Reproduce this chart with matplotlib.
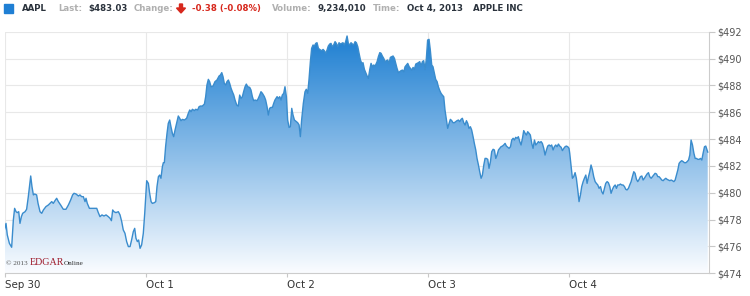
import numpy as np
import matplotlib
matplotlib.use('Agg')
import matplotlib.pyplot as plt
from matplotlib.colors import LinearSegmentedColormap
from matplotlib.patches import Rectangle, Polygon

# intraday AAPL quotes, time in trading days since Sep 30 open
sep30_t = [0.000, 0.010, 0.019, 0.034, 0.050, 0.062, 0.071, 0.081, 0.090, 0.100,
           0.109, 0.119, 0.128, 0.145, 0.156, 0.168, 0.185, 0.194, 0.204, 0.213,
           0.227, 0.237, 0.251, 0.263, 0.275, 0.293, 0.310, 0.322, 0.334, 0.345,
           0.357, 0.369, 0.381, 0.397, 0.416, 0.435, 0.452, 0.468, 0.482, 0.492,
           0.506, 0.523, 0.534, 0.546, 0.558, 0.570, 0.577, 0.586, 0.601, 0.617,
           0.634, 0.653, 0.664, 0.676, 0.690, 0.704, 0.719, 0.735, 0.747, 0.757,
           0.766, 0.775, 0.789, 0.806, 0.818, 0.830, 0.841, 0.853, 0.865, 0.877,
           0.889, 0.900, 0.912, 0.922, 0.931, 0.941, 0.950, 0.960, 0.971, 0.983,
           0.993]
sep30_p = [477.28, 477.72, 476.86, 476.23, 475.94, 477.97, 478.84, 478.59, 478.52, 478.59,
           477.72, 478.22, 478.47, 478.59, 478.77, 479.71, 481.25, 480.46, 479.84, 479.91,
           479.84, 479.21, 478.59, 478.47, 478.72, 478.97, 479.09, 479.21, 479.34, 479.21,
           479.41, 479.59, 479.34, 479.09, 478.77, 478.77, 479.09, 479.46, 479.84, 479.96,
           479.91, 479.76, 479.84, 479.71, 479.71, 479.34, 479.59, 479.21, 478.84, 478.84,
           478.84, 478.84, 478.52, 478.22, 478.35, 478.27, 478.35, 478.22, 478.10, 477.92,
           478.72, 478.59, 478.52, 478.59, 478.35, 477.85, 477.23, 476.98, 476.36, 475.99,
           475.99, 476.48, 477.10, 477.35, 476.61, 476.36, 476.48, 475.86, 476.11, 476.98,
           478.47]

oct1_t = [1.007, 1.019, 1.028, 1.038, 1.047, 1.061, 1.071, 1.080, 1.090, 1.099,
          1.108, 1.118, 1.125, 1.132, 1.141, 1.151, 1.160, 1.170, 1.179, 1.189,
          1.198, 1.208, 1.219, 1.231, 1.241, 1.250, 1.260, 1.274, 1.290, 1.302,
          1.312, 1.321, 1.331, 1.345, 1.354, 1.368, 1.378, 1.387, 1.401, 1.416,
          1.425, 1.434, 1.444, 1.453, 1.463, 1.477, 1.491, 1.505, 1.520, 1.529,
          1.539, 1.548, 1.557, 1.567, 1.576, 1.586, 1.595, 1.605, 1.614, 1.624,
          1.633, 1.645, 1.656, 1.666, 1.675, 1.685, 1.694, 1.704, 1.713, 1.723,
          1.737, 1.746, 1.756, 1.765, 1.775, 1.789, 1.798, 1.808, 1.817, 1.827,
          1.841, 1.850, 1.860, 1.869, 1.878, 1.888, 1.898, 1.907, 1.916, 1.931,
          1.940, 1.950, 1.959, 1.968, 1.978, 1.987, 1.997]
oct1_p = [480.90, 480.70, 479.96, 479.34, 479.21, 479.26, 479.34, 480.46, 481.20, 481.32,
          481.08, 481.94, 482.24, 482.24, 483.43, 484.43, 485.17, 485.42, 484.92, 484.43,
          484.18, 484.68, 485.17, 485.72, 485.55, 485.37, 485.47, 485.42, 485.55, 485.92,
          486.17, 486.04, 486.22, 486.12, 486.22, 486.17, 486.41, 486.46, 486.46, 486.61,
          487.16, 488.03, 488.45, 488.28, 487.90, 487.95, 488.28, 488.40, 488.70, 488.77,
          488.95, 488.65, 488.15, 488.03, 488.28, 488.40, 488.15, 487.78, 487.53, 487.28,
          486.91, 486.54, 486.46, 487.28, 487.03, 487.16, 487.53, 487.90, 488.10, 487.90,
          487.85, 487.66, 487.16, 486.86, 486.91, 486.86, 487.03, 487.28, 487.53, 487.41,
          487.16, 486.91, 486.41, 485.79, 486.29, 486.36, 486.36, 486.66, 486.91, 487.16,
          487.03, 487.16, 486.91, 487.28, 487.41, 487.90, 487.16]

oct2_t = [2.006, 2.016, 2.025, 2.035, 2.044, 2.054, 2.068, 2.077, 2.087, 2.096,
          2.105, 2.117, 2.129, 2.138, 2.148, 2.157, 2.167, 2.176, 2.186, 2.195,
          2.205, 2.214, 2.224, 2.233, 2.247, 2.257, 2.266, 2.276, 2.285, 2.294,
          2.304, 2.313, 2.323, 2.332, 2.342, 2.351, 2.361, 2.370, 2.380, 2.389,
          2.398, 2.408, 2.417, 2.427, 2.436, 2.446, 2.455, 2.465, 2.474, 2.484,
          2.493, 2.503, 2.512, 2.522, 2.531, 2.540, 2.550, 2.559, 2.569, 2.578,
          2.588, 2.597, 2.607, 2.616, 2.626, 2.640, 2.649, 2.659, 2.668, 2.677,
          2.687, 2.696, 2.706, 2.715, 2.725, 2.734, 2.744, 2.753, 2.763, 2.772,
          2.781, 2.791, 2.800, 2.810, 2.819, 2.829, 2.838, 2.848, 2.857, 2.867,
          2.876, 2.885, 2.895, 2.904, 2.914, 2.923, 2.932, 2.942, 2.951, 2.961,
          2.970, 2.980, 2.989, 2.998]
oct2_p = [485.42, 484.87, 484.92, 486.29, 485.79, 485.42, 485.30, 485.22, 485.05, 484.18,
          485.42, 486.66, 487.53, 487.71, 487.41, 488.40, 489.77, 490.76, 491.01, 490.93,
          491.13, 491.18, 490.76, 490.68, 490.58, 490.68, 490.58, 490.39, 490.63, 490.93,
          491.08, 491.13, 490.88, 491.01, 491.26, 491.13, 490.88, 491.18, 491.08, 491.13,
          491.18, 491.01, 491.26, 491.68, 491.13, 491.01, 491.18, 491.08, 491.01, 491.26,
          491.18, 490.88, 490.39, 489.89, 489.64, 489.69, 489.19, 488.95, 488.70, 488.52,
          489.19, 489.64, 489.39, 489.52, 489.44, 489.77, 490.14, 490.44, 490.39, 490.19,
          490.01, 489.77, 489.84, 489.89, 489.64, 490.09, 490.14, 490.19, 490.01, 489.64,
          489.27, 488.95, 489.02, 489.10, 489.14, 489.02, 489.39, 489.52, 489.64, 489.39,
          489.27, 489.14, 489.34, 489.19, 489.59, 489.64, 489.69, 489.77, 489.44, 489.77,
          489.84, 489.19, 490.01, 491.38]

oct3_t = [3.008, 3.017, 3.027, 3.036, 3.046, 3.055, 3.065, 3.074, 3.084, 3.093,
          3.102, 3.112, 3.121, 3.131, 3.140, 3.150, 3.159, 3.169, 3.178, 3.187,
          3.197, 3.206, 3.216, 3.225, 3.235, 3.244, 3.254, 3.263, 3.273, 3.282,
          3.291, 3.301, 3.310, 3.320, 3.329, 3.339, 3.348, 3.358, 3.367, 3.377,
          3.386, 3.396, 3.405, 3.414, 3.424, 3.433, 3.443, 3.452, 3.462, 3.471,
          3.481, 3.490, 3.500, 3.509, 3.518, 3.528, 3.537, 3.547, 3.556, 3.566,
          3.575, 3.585, 3.594, 3.604, 3.613, 3.622, 3.632, 3.641, 3.651, 3.660,
          3.670, 3.679, 3.689, 3.698, 3.707, 3.717, 3.726, 3.736, 3.745, 3.755,
          3.764, 3.774, 3.783, 3.792, 3.802, 3.811, 3.821, 3.830, 3.840, 3.849,
          3.859, 3.868, 3.877, 3.887, 3.896, 3.906, 3.915, 3.925, 3.934, 3.944,
          3.953, 3.963, 3.972, 3.981, 3.991, 4.000]
oct3_p = [491.43, 490.63, 489.52, 489.39, 488.90, 488.45, 488.28, 487.90, 487.61, 487.41,
          487.28, 487.16, 486.17, 485.42, 484.80, 485.17, 485.47, 485.37, 485.22, 485.22,
          485.30, 485.37, 485.42, 485.30, 485.47, 485.55, 485.22, 485.05, 485.37, 485.17,
          484.80, 484.92, 484.68, 484.18, 483.68, 483.19, 482.56, 482.07, 481.57, 481.08,
          481.32, 482.07, 482.56, 482.56, 482.49, 481.82, 482.32, 483.06, 483.24, 483.19,
          482.56, 482.81, 483.19, 483.31, 483.43, 483.48, 483.56, 483.68, 483.48, 483.39,
          483.31, 483.43, 483.93, 484.06, 483.93, 484.13, 484.06, 484.18, 483.81, 483.56,
          484.06, 484.63, 484.43, 484.30, 484.55, 484.43, 484.30, 483.68, 483.31, 483.93,
          483.56, 483.68, 483.81, 483.73, 483.81, 483.68, 483.31, 482.81, 483.19, 483.48,
          483.56, 483.48, 483.56, 483.19, 483.43, 483.56, 483.43, 483.63, 483.48, 483.39,
          483.14, 483.31, 483.43, 483.48, 483.43, 483.31]

oct4_t = [4.005, 4.015, 4.024, 4.033, 4.043, 4.052, 4.062, 4.071, 4.081, 4.090,
          4.100, 4.109, 4.119, 4.128, 4.138, 4.147, 4.156, 4.166, 4.175, 4.185,
          4.194, 4.204, 4.213, 4.223, 4.232, 4.241, 4.251, 4.260, 4.270, 4.279,
          4.289, 4.298, 4.308, 4.317, 4.327, 4.336, 4.345, 4.355, 4.364, 4.374,
          4.383, 4.393, 4.402, 4.411, 4.421, 4.430, 4.440, 4.449, 4.459, 4.468,
          4.478, 4.487, 4.497, 4.506, 4.516, 4.525, 4.534, 4.544, 4.553, 4.563,
          4.572, 4.582, 4.591, 4.601, 4.610, 4.620, 4.629, 4.638, 4.648, 4.657,
          4.667, 4.676, 4.686, 4.695, 4.705, 4.714, 4.724, 4.733, 4.743, 4.752,
          4.761, 4.771, 4.780, 4.790, 4.799, 4.809, 4.818, 4.828, 4.837, 4.847,
          4.856, 4.865, 4.875, 4.885, 4.894, 4.903, 4.913, 4.922, 4.932, 4.941,
          4.950, 4.960, 4.969, 4.979, 4.983]
oct4_p = [482.94, 481.94, 481.08, 481.20, 481.50, 481.08, 480.21, 479.34, 479.84, 480.46,
          480.83, 481.08, 481.32, 480.70, 481.20, 481.57, 482.07, 481.70, 481.20, 480.83,
          480.70, 480.58, 480.33, 480.46, 480.08, 479.91, 480.33, 480.70, 480.83, 480.75,
          480.46, 479.96, 480.26, 480.46, 480.58, 480.33, 480.58, 480.58, 480.65, 480.58,
          480.58, 480.46, 480.26, 480.21, 480.33, 480.58, 480.83, 481.20, 481.57, 481.45,
          481.00, 480.83, 481.00, 481.20, 481.25, 480.95, 481.08, 481.25, 481.40, 481.50,
          481.20, 481.08, 481.20, 481.32, 481.45, 481.40, 481.20, 481.20, 481.08, 480.95,
          480.90, 481.00, 481.08, 481.00, 480.95, 480.90, 480.95, 480.90, 480.83, 480.95,
          481.32, 481.70, 482.19, 482.32, 482.39, 482.32, 482.24, 482.24, 482.32, 482.44,
          482.81, 483.93, 483.56, 482.94, 482.56, 482.56, 482.49, 482.49, 482.56, 482.44,
          482.94, 483.43, 483.48, 483.14, 483.03]

day_labels = ['Sep 30', 'Oct 1', 'Oct 2', 'Oct 3', 'Oct 4']
price_ticks = [474, 476, 478, 480, 482, 484, 486, 488, 490, 492]

# header strip: (text, kind)
header = [('AAPL', 'bold'), ('Last:', 'label'), ('$483.03', 'bold'),
          ('Change:', 'label'), ('-0.38 (-0.08%)', 'red'), ('Volume:', 'label'),
          ('9,234,010', 'bold'), ('Time:', 'label'), ('Oct 4, 2013', 'bold'),
          ('APPLE INC', 'bold')]
header_x = [22, 58, 88, 134, 192, 272, 318, 373, 407, 473]

t = np.concatenate([sep30_t, oct1_t, oct2_t, oct3_t, oct4_t])
p = np.concatenate([sep30_p, oct1_p, oct2_p, oct3_p, oct4_p])

W, H = 750, 296
fig = plt.figure(figsize=(W / 100, H / 100), dpi=100)
ax = fig.add_axes([4.6 / W, (H - 273.3) / H, (709 - 4.6) / W, (273.3 - 31.7) / H])

ymin, ymax = price_ticks[0], price_ticks[-1]
xmax = 4.992

# gradient area under the line
fill = ax.fill_between(t, p, ymin, facecolor='none', edgecolor='none')
cmap = LinearSegmentedColormap.from_list('blu', ['#fafcff', '#1a7dd1'])
grad = np.linspace(0, 1, 256).reshape(-1, 1)
im = ax.imshow(grad, extent=[0, xmax, ymin, ymax], origin='lower',
               aspect='auto', cmap=cmap, zorder=2)
im.set_clip_path(fill.get_paths()[0], transform=ax.transData)
ax.plot(t, p, color='#3a8ccd', lw=1.0, zorder=3)

ax.set_xlim(0, xmax)
ax.set_ylim(ymin, ymax)

ax.set_xticks(range(len(day_labels)))
ax.set_xticklabels(day_labels, ha='left')
ax.yaxis.tick_right()
ax.set_yticks(price_ticks)
ax.set_yticklabels(['$%d' % v for v in price_ticks])
ax.tick_params(axis='x', length=3, width=0.8, color='#c8c8c8', pad=2,
               labelsize=7.4, labelcolor='#333333')
ax.tick_params(axis='y', length=4.3, width=0.8, color='#c8c8c8', pad=1.5,
               labelsize=7, labelcolor='#555555')

ax.grid(True, color='#e8e8e8', lw=0.8)
ax.set_axisbelow(True)
for s in ['top', 'left']:
    ax.spines[s].set_visible(False)
for s in ['right', 'bottom']:
    ax.spines[s].set_color('#cccccc')
    ax.spines[s].set_linewidth(0.8)

# header
fig.patches.append(Rectangle((4 / W, 1 - 12.7 / H), 8.7 / W, 8.7 / H,
                             transform=fig.transFigure, color='#1f7fd4'))
styles = {'bold': '#2a323c', 'label': '#b0b0b0', 'red': '#d7281d'}
for (txt, kind), x in zip(header, header_x):
    fig.text(x / W, 1 - 8.6 / H, txt, fontsize=6.2, fontweight='bold',
             color=styles[kind], va='center', ha='left')
arrow = [(179.5, 4), (182.5, 4), (182.5, 8), (185.5, 8), (181, 13), (176.5, 8), (179.5, 8)]
fig.patches.append(Polygon([(x / W, 1 - y / H) for x, y in arrow],
                           closed=True, transform=fig.transFigure, color='#d7281d'))

# watermark
base = 1 - 264.7 / H
fig.text(5.5 / W, base, '© 2013', fontsize=5.2, color='#555555',
         family='Liberation Serif', va='baseline')
fig.text(29.3 / W, base, 'EDGAR', fontsize=7.2, color='#9e1b2b',
         family='Liberation Serif', va='baseline')
fig.text(63.5 / W, base, 'Online', fontsize=5.2, color='#333333',
         family='Liberation Serif', va='baseline')

fig.savefig('out.png', dpi=100)
